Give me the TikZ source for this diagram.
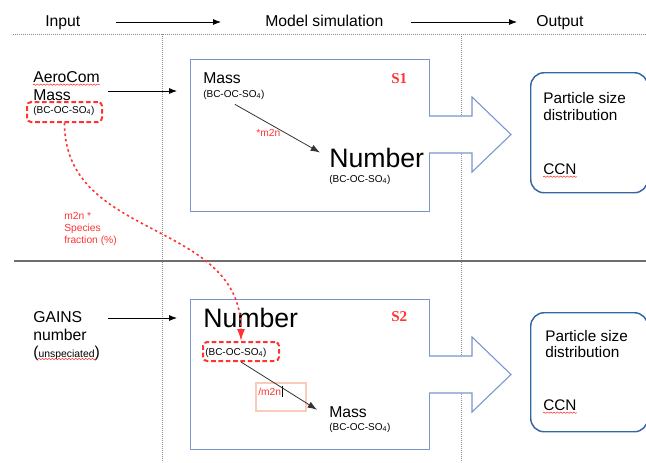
\documentclass[tikz,border=0pt]{standalone}
\usepackage{fontspec}
\setmainfont{Liberation Sans}
\newfontfamily\labelfont{Liberation Serif}
\usetikzlibrary{arrows.meta, decorations.pathmorphing}

\definecolor{boxblue}{RGB}{120,150,205}
\definecolor{outblue}{RGB}{52,101,164}
\definecolor{tagred}{RGB}{255,51,51}
\definecolor{cursalmon}{RGB}{248,203,187}
\definecolor{linegray}{RGB}{110,110,110}

\newcommand{\species}{(BC-OC-SO\textsubscript{4})}

\begin{document}
\begin{tikzpicture}[x=0.75pt, y=-0.75pt,
    txt/.style={inner sep=0, anchor=base west, font=\fontsize{11.8}{14}\selectfont},
    hdr/.style={txt, text height=8.5pt, text depth=2.5pt},
    subtxt/.style={inner sep=0, anchor=base west, font=\fontsize{7.5}{9}\selectfont},
    bigtxt/.style={inner sep=0, anchor=base west, font=\fontsize{20}{24}\selectfont},
    redtxt/.style={subtxt, text=tagred, font=\fontsize{7.7}{9}\selectfont},
    outtxt/.style={txt, font=\fontsize{11.5}{14}\selectfont},
    tagtxt/.style={inner sep=0, anchor=base west, text=tagred, font=\labelfont\bfseries\fontsize{11.3}{13}\selectfont},
    simbox/.style={draw=boxblue, line width=0.8pt, anchor=north west, minimum width=179.25pt},
    outbox/.style={draw=outblue, line width=1.1pt, rounded corners=10pt, anchor=north west, minimum width=87.75pt},
    redbox/.style={draw=tagred, line width=1.5pt, dash pattern=on 3.5pt off 2pt, rounded corners=3pt},
    curbox/.style={draw=cursalmon, line width=1.5pt},
    flow/.style={-{Latex[length=6pt,width=4.5pt]}, black, line width=0.6pt},
    conv/.style={-{Latex[length=7pt,width=5pt]}, black!80, line width=0.6pt},
    reddot/.style={-{Latex[length=9pt,width=6pt]}, tagred, line width=1.2pt, dash pattern=on 1.8pt off 2.2pt},
    bigarrow/.style={draw=boxblue, line width=0.8pt, fill=white},
    grid/.style={black!45, line width=0.6pt, dash pattern=on 0.6pt off 0.9pt},
    spell/.style={draw=tagred, line width=0.4pt, decorate, decoration={snake, amplitude=0.5pt, segment length=2.5pt}}]

  \useasboundingbox (0,0) rectangle (646,462);

  % Header
  \node[hdr] (in) at (45,26) {Input};
  \node[hdr] (sim) at (265,26) {Model simulation};
  \node[hdr] (out) at (536,26) {Output};
  \draw[flow, shorten <=26.25pt, shorten >=33pt] (in) -- (sim);
  \draw[flow, shorten <=20.25pt, shorten >=14.25pt] (sim) -- (out);

  % Grid lines
  \draw[grid] (13,34) -- (646,34);
  \foreach \x in {162,461}
    \draw[grid] (\x,34) -- (\x,462);
  \draw[linegray, line width=0.9pt] (14,261) -- (646,261);

  % Scenario S1
  \node[simbox, minimum height=114pt] (s1) at (190,59) {};
  \node[txt] (s1mass) at (203,83) {Mass};
  \node[subtxt] (s1masssp) at (203,97) {\species};
  \node[tagtxt] (s1tag) at (391,83) {S1};
  \node[bigtxt] (s1num) at (329,167) {Number};
  \node[subtxt] (s1numsp) at (329,182) {\species};
  \draw[conv] ([shift={(1,5)}]s1masssp.south) -- ([shift={(-9,-5)}]s1num.west);
  \node[redtxt] (s1conv) at (256,136) {*m2n};

  % Scenario S2
  \node[simbox, minimum height=112.5pt] (s2) at (190,299) {};
  \node[bigtxt] (s2num) at (203,327) {Number};
  \node[tagtxt] (s2tag) at (391,321) {S2};
  \node[redbox, minimum width=57pt, minimum height=14.25pt] (s2box) at (241,351.5) {};
  \node[subtxt] (s2numsp) at (205,355) {\species};
  \node[curbox, minimum width=37.5pt, minimum height=21pt] (s2cur) at (281,397) {};
  \node[redtxt] (s2conv) at (258,395) {/m2n};
  \draw[black, line width=0.6pt] ([shift={(1,-9)}]s2conv.base east) -- ([shift={(1,2)}]s2conv.base east);
  \node[txt] (s2mass) at (329,417) {Mass};
  \node[subtxt] (s2masssp) at (329,430) {\species};
  \draw[conv] (s2box.south) -- ([shift={(-12,-2)}]s2mass.west);

  % Big arrows to output
  \foreach \c in {134.5,374.5}
    \draw[bigarrow] (429,\c-18.5) -- (472,\c-18.5) -- (472,\c-37.5) -- (511,\c)
      -- (472,\c+37.5) -- (472,\c+18.5) -- (429,\c+18.5);

  % Inputs
  \node[txt] (aero) at (33,82) {AeroCom};
  \node[txt] (aeromass) at (33,100) {Mass};
  \node[redbox, minimum width=56.25pt, minimum height=15pt] (aerobox) at (64.5,112) {};
  \node[subtxt] (aerosp) at (33,113) {\species};
  \coordinate (aeroin) at (108,91);
  \draw[flow, shorten >=9.75pt] (aeroin) -- (aeroin -| s1.west);

  \node[txt] (gains) at (33,322) {GAINS};
  \node[txt] (gainsnum) at (33,340) {number};
  \node[txt] (gainsun) at (33,357) {({\fontsize{7.8}{9}\selectfont unspeciated})};
  \coordinate (gainsin) at (108,318);
  \draw[flow, shorten >=9.75pt] (gainsin) -- (gainsin -| s2.west);

  % Mass to number link
  \draw[reddot] (aerobox.south) .. controls +(0,118) and +(0,-122) .. (s2box.north);
  \node[redtxt] (link1) at (64,219) {m2n *};
  \node[redtxt] (link2) at (64,231) {Species};
  \node[redtxt] (link3) at (64,243) {fraction (\%)};

  % Outputs
  \node[outbox, minimum height=90pt] (o1) at (530,72) {};
  \node[outtxt] (o1psd) at (543,103) {Particle size};
  \node[outtxt] (o1dist) at (543,120) {distribution};
  \node[outtxt] (o1ccn) at (543,174) {CCN};
  \node[outbox, minimum height=89.25pt] (o2) at (530,312) {};
  \node[outtxt] (o2psd) at (545,341) {Particle size};
  \node[outtxt] (o2dist) at (545,357) {distribution};
  \node[outtxt] (o2ccn) at (543,410) {CCN};

  % Spell check marks
  \draw[spell] ([yshift=-2pt]aero.base west) -- ([yshift=-2pt]aero.base east);
  \draw[spell] ([shift={(5,2)}]gainsun.base west) -- ([shift={(-4,2)}]gainsun.base east);
  \draw[spell] ([yshift=-2pt]o1ccn.base west) -- ([yshift=-2pt]o1ccn.base east);
  \draw[spell] ([yshift=-2pt]o2ccn.base west) -- ([yshift=-2pt]o2ccn.base east);

\end{tikzpicture}
\end{document}
